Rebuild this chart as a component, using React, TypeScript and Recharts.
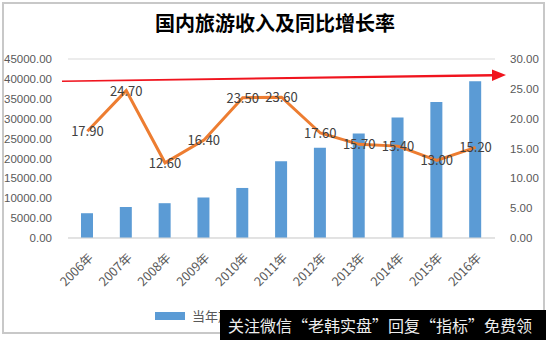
import { ComposedChart, Bar, Line, XAxis, YAxis, CartesianGrid, Legend } from "recharts";

const years = ["2006年", "2007年", "2008年", "2009年", "2010年", "2011年", "2012年", "2013年", "2014年", "2015年", "2016年"];
const revenue = [6230, 7771, 8749, 10184, 12580, 19305, 22706, 26276, 30312, 34195, 39390];
const growth = [17.9, 24.7, 12.6, 16.4, 23.5, 23.6, 17.6, 15.7, 15.4, 13.0, 15.2];
const leftTicks = [0, 5000, 10000, 15000, 20000, 25000, 30000, 35000, 40000, 45000];
const rightTicks = [0, 5, 10, 15, 20, 25, 30];

const data = years.map((y, i) => ({ year: y, revenue: revenue[i], growth: growth[i] }));

const tickStyle = { fontSize: 11.5, fill: "#595959", fontFamily: "Liberation Sans" };

const YearTick = (props: any) => {
  const { x, y, payload } = props;
  return (
    <text
      x={x + 3}
      y={y + 9}
      textAnchor="end"
      transform={`rotate(-45, ${x + 3}, ${y + 9})`}
      fontSize={12.5}
      fill="#595959"
      fontFamily="Noto Sans CJK SC"
      dy={5}
    >
      {payload.value}
    </text>
  );
};

const PointLabel = (props: any) => {
  const { x, y, value } = props;
  return (
    <text x={x} y={y} dy={5} textAnchor="middle" fontSize={13} fill="#404040" fontFamily="Noto Sans CJK SC">
      {Number(value).toFixed(2)}
    </text>
  );
};

const LegendContent = () => (
  <div style={{ display: "flex", alignItems: "center", paddingLeft: 155, fontSize: 13, color: "#595959", fontFamily: "Noto Sans CJK SC" }}>
    <span style={{ display: "inline-block", width: 30, height: 8, background: "#5B9BD5", marginRight: 7 }} />
    <span style={{ marginRight: 20 }}>当年旅游收入</span>
    <span style={{ display: "inline-block", width: 30, height: 3, background: "#ED7D31", marginRight: 7 }} />
    <span>同比增长率</span>
  </div>
);

export default function App() {
  return (
    <div style={{ position: "absolute", left: 0, top: 0, width: 550, height: 340, background: "#fff", overflow: "hidden" }}>
      <div style={{ position: "absolute", left: 2, top: 2, width: 543, height: 332, border: "2px solid #c8c8c8", boxSizing: "border-box" }} />
      <div style={{ position: "absolute", left: 0, top: 8, width: 550, textAlign: "center", fontSize: 20, color: "#000", fontFamily: "Noto Sans CJK SC", fontWeight: 600 }}>
        国内旅游收入及同比增长率
      </div>
      <ComposedChart width={550} height={340} data={data} margin={{ top: 59, right: 5, bottom: 0, left: 8 }}>
        <CartesianGrid vertical={false} stroke="#d9d9d9" />
        <XAxis dataKey="year" axisLine={{ stroke: "#d9d9d9" }} tickLine={false} tick={<YearTick />} height={68} interval={0} />
        <YAxis
          yAxisId="left"
          domain={[0, 45000]}
          ticks={leftTicks}
          interval={0}
          axisLine={false}
          tickLine={false}
          tick={tickStyle}
          tickFormatter={(v: number) => v.toFixed(2)}
          width={60}
          tickMargin={10}
        />
        <YAxis
          yAxisId="right"
          orientation="right"
          domain={[0, 30]}
          ticks={rightTicks}
          interval={0}
          axisLine={false}
          tickLine={false}
          tick={tickStyle}
          tickFormatter={(v: number) => v.toFixed(2)}
          width={50}
          tickMargin={9}
        />
        <Legend verticalAlign="bottom" height={34} wrapperStyle={{ left: 0, width: 550 }} content={<LegendContent />} />
        <Bar yAxisId="left" dataKey="revenue" fill="#5B9BD5" barSize={12} isAnimationActive={false} />
        <Line
          yAxisId="right"
          dataKey="growth"
          stroke="#ED7D31"
          strokeWidth={3}
          dot={false}
          isAnimationActive={false}
          label={<PointLabel />}
        />
      </ComposedChart>
      <svg width={550} height={340} style={{ position: "absolute", left: 0, top: 0, pointerEvents: "none" }}>
        <polygon points="62,80.5 493,74 493,76.5 62,82" fill="#f0141e" />
        <polygon points="492,69.5 506,75 492,81" fill="#f0141e" />
      </svg>
      <div
        style={{
          position: "absolute",
          left: 220,
          top: 310,
          width: 326,
          height: 30,
          background: "#000",
          color: "#eee",
          fontSize: 16,
          fontFamily: "Noto Sans CJK SC",
          lineHeight: "30px",
          paddingLeft: 8,
          boxSizing: "border-box",
          whiteSpace: "nowrap",
        }}
      >
        关注微信“老韩实盘”回复“指标”免费领
      </div>
    </div>
  );
}
